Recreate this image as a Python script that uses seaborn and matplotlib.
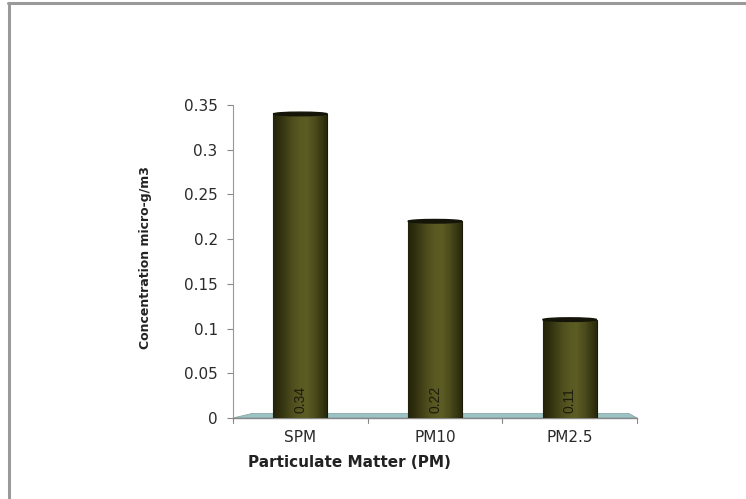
import numpy as np
import pandas as pd
import matplotlib
matplotlib.use("Agg")
import matplotlib.pyplot as plt
import seaborn as sns
from matplotlib.patches import Ellipse, Polygon
from matplotlib.lines import Line2D

categories = ["SPM", "PM10", "PM2.5"]
values = [0.34, 0.22, 0.11]
value_labels = ["0.34", "0.22", "0.11"]
y_ticks = [0, 0.05, 0.1, 0.15, 0.2, 0.25, 0.3, 0.35]
y_tick_labels = ["0", "0.05", "0.1", "0.15", "0.2", "0.25", "0.3", "0.35"]

sns.set_theme(style="white")
plt.rcParams["font.family"] = ["DejaVu Sans"]

df = pd.DataFrame({"pm": categories, "conc": values})

fig = plt.figure(figsize=(7.46, 4.99), dpi=100)
ax = fig.add_axes([233 / 746, 1 - 418 / 499, (637 - 233) / 746, (418 - 105) / 499])

sns.barplot(data=df, x="pm", y="conc", color="#4a4a18", width=0.40,
            ax=ax, saturation=1, zorder=3)

ax.set_xlim(-0.5, 2.5)
ax.set_ylim(0, 0.35)

# cylinder shading: horizontal gradient clipped to each bar
shade = np.array([0.10, 0.30, 0.55, 0.80, 0.95, 1.0, 0.80, 0.50, 0.20])
grad = np.interp(np.linspace(0, len(shade) - 1, 200), np.arange(len(shade)), shade)
dark = np.array([0x1c, 0x1c, 0x06]) / 255
light = np.array([0x5c, 0x5c, 0x24]) / 255
rgb = dark[None, :] + grad[:, None] * (light - dark)[None, :]
img = np.tile(rgb[None, :, :], (2, 1, 1))

for bar in ax.patches:
    x0 = bar.get_x()
    w = bar.get_width()
    h = bar.get_height()
    im = ax.imshow(img, extent=[x0, x0 + w, 0, h], aspect="auto",
                   interpolation="bilinear", zorder=4)
    im.set_clip_path(bar)
    bar.set_edgecolor("#1a1a08")
    bar.set_linewidth(0.8)
    # rounded dark top of the cylinder
    ax.add_patch(Ellipse((x0 + w / 2, h), w, 0.004, facecolor="#141408",
                         edgecolor="#141408", zorder=5))

ax.set_xlim(-0.5, 2.5)
ax.set_ylim(0, 0.35)

# value labels written vertically near the base of each bar
for i, lab in enumerate(value_labels):
    ax.text(i, 0.006, lab, rotation=90, ha="center", va="bottom",
            fontsize=10, color="#1c1c0c", zorder=6,
            family=["Liberation Sans"])

# pale floor under the bars
floor = Polygon([(-0.5, 0.0), (-0.36, 0.005), (2.44, 0.005), (2.5, 0.0)],
                closed=True, facecolor="#9cc3c3", edgecolor="#8aa8a8",
                linewidth=0.6, zorder=2, clip_on=False)
ax.add_patch(floor)

ax.set_yticks(y_ticks)
ax.set_yticklabels(y_tick_labels, fontsize=11, color="#2a2a2a")
ax.set_xticks([0, 1, 2])
ax.set_xticklabels(categories, fontsize=11, color="#2a2a2a")
ax.tick_params(axis="x", length=0, pad=9)
ax.tick_params(axis="y", length=4, width=0.8, color="#888888", pad=7, left=True)

# category separators on the base line
for xb in [-0.5, 0.5, 1.5, 2.5]:
    ax.plot([xb, xb], [0, -0.006], color="#888888", lw=0.8, clip_on=False, zorder=3)

for s in ["top", "right"]:
    ax.spines[s].set_visible(False)
ax.spines["left"].set_color("#999999")
ax.spines["left"].set_linewidth(0.8)
ax.spines["bottom"].set_color("#888888")
ax.spines["bottom"].set_linewidth(1.0)

ax.set_xlabel("Particulate Matter (PM)", fontsize=11, fontweight="bold",
              color="#222222")
ax.xaxis.set_label_coords((349 - 233) / (637 - 233), -(455 - 418) / (418 - 105))
ax.set_ylabel("Concentration micro-g/m3", fontsize=9, fontweight="bold",
              color="#222222")
ax.yaxis.set_label_coords(-(233 - 152) / (637 - 233), (418 - 258) / (418 - 105))

# outer frame of the chart area
fig.add_artist(Line2D([8 / 746, 1], [1 - 3 / 499, 1 - 3 / 499],
                      color="#9a9a9a", lw=2.2, transform=fig.transFigure))
fig.add_artist(Line2D([9 / 746, 9 / 746], [0, 1 - 3 / 499],
                      color="#9a9a9a", lw=2.2, transform=fig.transFigure))

fig.savefig("out.png", dpi=100)
